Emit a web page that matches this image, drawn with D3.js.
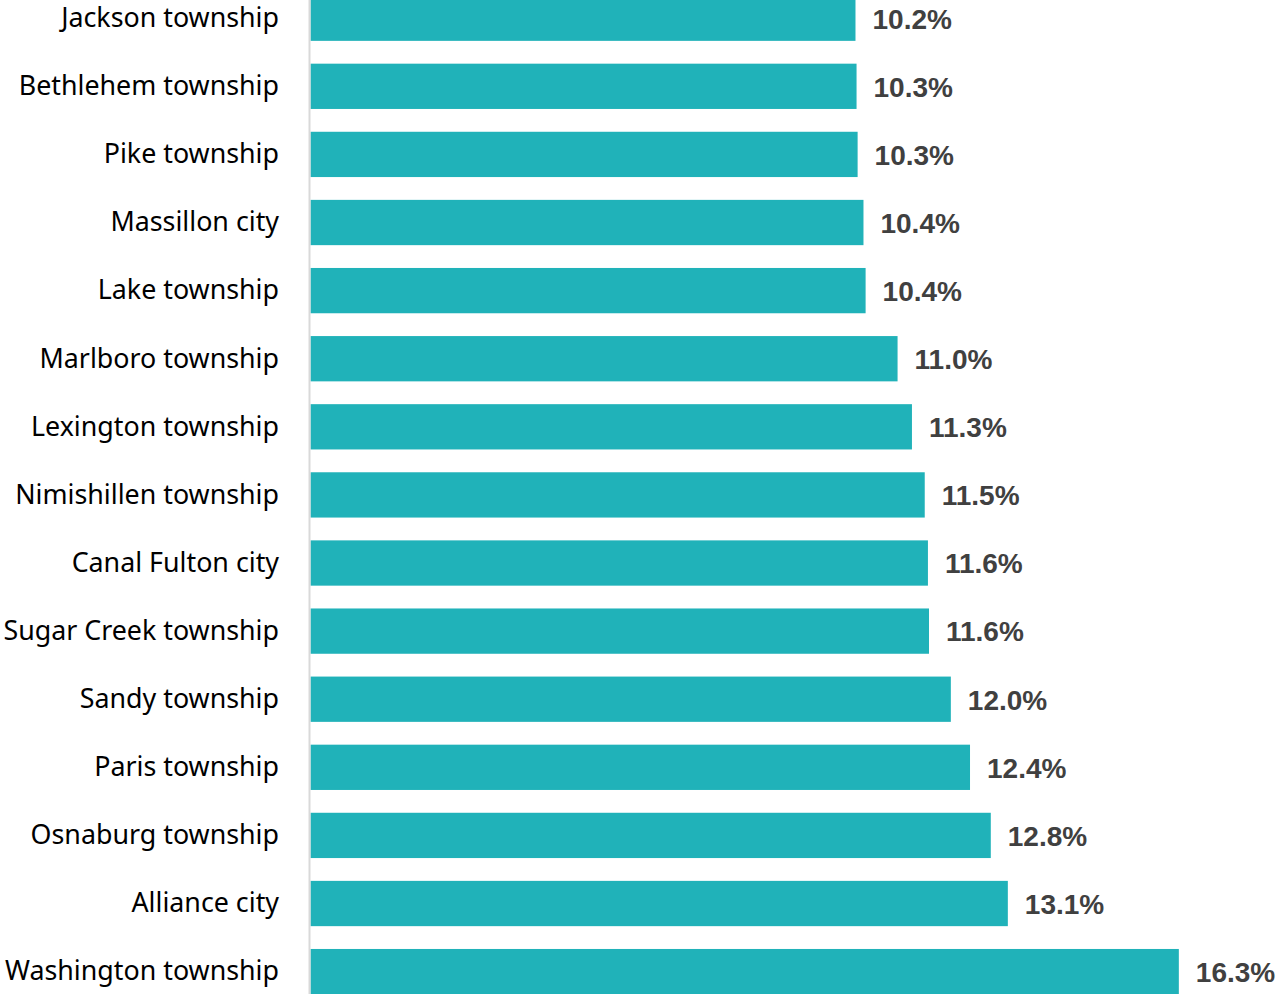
<!DOCTYPE html>
<html><head><meta charset="utf-8">
<script src="https://cdn.jsdelivr.net/npm/d3@7/dist/d3.min.js"></script>
<style>body{margin:0;background:#fff;overflow:hidden}</style>
</head><body>
<svg id="c" width="1281" height="994"></svg>
<script>
const categories = ["Jackson township","Bethlehem township","Pike township","Massillon city","Lake township","Marlboro township","Lexington township","Nimishillen township","Canal Fulton city","Sugar Creek township","Sandy township","Paris township","Osnaburg township","Alliance city","Washington township"];
const values = [10.24,10.26,10.28,10.39,10.43,11.03,11.30,11.54,11.60,11.62,12.03,12.39,12.78,13.10,16.31];
const labels = ["10.2%","10.3%","10.3%","10.4%","10.4%","11.0%","11.3%","11.5%","11.6%","11.6%","12.0%","12.4%","12.8%","13.1%","16.3%"];

const svg = d3.select("#c");
const x = d3.scaleLinear().domain([0, 18]).range([310, 310 + 18*53.27]);
const step = 68.1;
const y = d3.scaleBand().domain(categories)
  .range([-4.6 - step*0.165, -4.6 - step*0.165 + step*categories.length])
  .paddingInner(0.335).paddingOuter(0.1675);

svg.selectAll("rect.bar").data(categories).join("rect")
  .attr("class","bar")
  .attr("x", x(0) + 0.5)
  .attr("y", d => y(d))
  .attr("width", (d,i) => x(values[i]) - x(0) - 0.5)
  .attr("height", y.bandwidth())
  .attr("fill", "#20b2b9");

svg.append("line").attr("x1",309.5).attr("x2",309.5).attr("y1",0).attr("y2",994)
  .attr("stroke","#d9d9d9").attr("stroke-width",2);

svg.selectAll("text.cat").data(categories).join("text")
  .attr("class","cat")
  .attr("x", 279)
  .attr("y", d => y(d) + y.bandwidth()/2)
  .attr("dy", "0.33em")
  .attr("text-anchor","end")
  .attr("font-family","'Noto Sans', sans-serif")
  .attr("font-size", 26.8)
  .attr("fill","#000")
  .text(d => d);

svg.selectAll("text.val").data(categories).join("text")
  .attr("class","val")
  .attr("x", (d,i) => x(values[i]) + 17)
  .attr("y", d => y(d) + y.bandwidth()/2)
  .attr("dy", "0.37em")
  .attr("font-family","'Liberation Sans', Arial, sans-serif")
  .attr("font-weight","bold")
  .attr("font-size", 28)
  .attr("fill","#404040")
  .text((d,i) => labels[i]);
</script>
</body></html>
